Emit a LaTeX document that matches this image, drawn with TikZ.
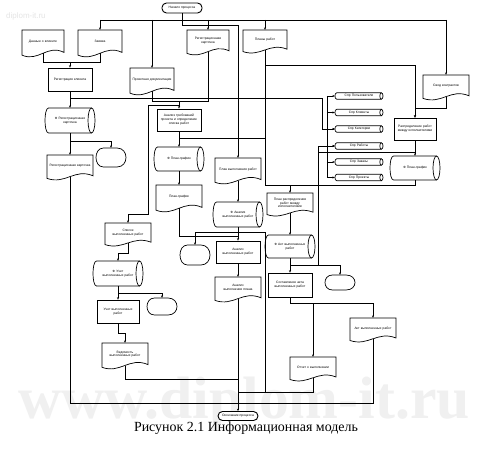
\documentclass[tikz,border=0pt]{standalone}
\usepackage{fontspec}
\setmainfont{Liberation Serif}
\newfontfamily\dsans{Liberation Sans}
\usetikzlibrary{arrows.meta}
\tikzset{
 shp/.style={draw=black, line width=0.7bp, fill=white},
 lin/.style={draw=black, line width=0.7bp},
 txt/.style={font=\dsans\fontsize{3.3}{3.9}\selectfont, align=center, inner sep=0pt},
 proc/.style={shp, txt},
 term/.style={draw=black, line width=0.9bp, fill=white, rounded corners=4.5bp, txt, minimum width=40bp, minimum height=10bp},
 conn/.style={line width=0.7bp, -{Stealth[length=2.4bp,width=2bp]}},
 wire/.style={line width=0.7bp},
 wm/.style={font=\bfseries\fontsize{60}{60}\selectfont, text=black!6, inner sep=0pt},
 wms/.style={font=\dsans\fontsize{8}{8}\selectfont, text=black!10, inner sep=0pt},
 capt/.style={font=\fontsize{14}{16}\selectfont, inner sep=0pt},
}
% document shape: name, x1, y1, x2, y2, text
\newcommand\mkdoc[6]{%
 \draw[shp] (#2,#3) -- (#4,#3) -- (#4,{#5-0.2*(#5-#3)}) .. controls ({#2+0.6*(#4-#2)},{#5-0.5*(#5-#3)}) and ({#2+0.4*(#4-#2)},{#5+0.15*(#5-#3)}) .. (#2,{#5-0.1*(#5-#3)}) -- cycle;
 \pgfmathsetmacro\rsW{#4-#2}\pgfmathsetmacro\rsH{0.83*(#5-#3)}\pgfmathsetmacro\rsTW{#4-#2-5}\pgfmathsetmacro\rsCY{#3+0.415*(#5-#3)}%
 \node[txt, minimum width=\rsW bp, minimum height=\rsH bp, text width=\rsTW bp] (#1) at ({(#2+#4)/2},\rsCY) {#6};}
% process box
\newcommand\mkproc[6]{%
 \pgfmathsetmacro\rsW{#4-#2}\pgfmathsetmacro\rsH{#5-#3}\pgfmathsetmacro\rsTW{#4-#2-4}%
 \node[proc, minimum width=\rsW bp, minimum height=\rsH bp, text width=\rsTW bp] (#1) at ({(#2+#4)/2},{(#3+#5)/2}) {#6};}
% horizontal cylinder: name, x1, y1, x2, y2, rx, text
\newcommand\mkcyl[7]{%
 \pgfmathsetmacro\rsCY{(#3+#5)/2}\pgfmathsetmacro\rsRY{(#5-#3)/2}%
 \path[fill=white] ({#2+#6},#3) -- ({#4-#6},#3) -- ({#4-#6},#5) -- ({#2+#6},#5) .. controls ({#2-#6/3},#5) and ({#2-#6/3},#3) .. ({#2+#6},#3) -- cycle;
 \draw[shp] ({#4-#6},\rsCY) ellipse [x radius=#6, y radius=\rsRY];
 \draw[lin] ({#2+#6},#3) -- ({#4-#6},#3) ({#2+#6},#5) -- ({#4-#6},#5) ({#2+#6},#3) .. controls ({#2-#6/3},#3) and ({#2-#6/3},#5) .. ({#2+#6},#5);
 \pgfmathsetmacro\rsW{#4-#2}\pgfmathsetmacro\rsH{#5-#3}\pgfmathsetmacro\rsTW{#4-#2-2*#6-3}%
 \node[txt, minimum width=\rsW bp, minimum height=\rsH bp, text width=\rsTW bp] (#1) at ({(#2+#4)/2},\rsCY) {#7};}
% display shape: name, x1, y1, x2, y2
\newcommand\mkdisp[5]{%
 \pgfmathsetmacro\rsW{#4-#2}\pgfmathsetmacro\rsH{#5-#3}%
 \draw[shp] ({#2+0.25*\rsW},#3) -- ({#4-0.3*\rsW},#3) .. controls ({#4+0.1*\rsW},#3) and ({#4+0.1*\rsW},#5) .. ({#4-0.3*\rsW},#5) -- ({#2+0.25*\rsW},#5) .. controls ({#2+0.08*\rsW},#5) and (#2,{#5-0.25*\rsH}) .. (#2,{(#3+#5)/2}) .. controls (#2,{#3+0.25*\rsH}) and ({#2+0.08*\rsW},#3) .. ({#2+0.25*\rsW},#3) -- cycle;
 \node[inner sep=0pt, minimum width=\rsW bp, minimum height=\rsH bp] (#1) at ({(#2+#4)/2},{(#3+#5)/2}) {};}
\begin{document}
\begin{tikzpicture}[x=1bp,y=-1bp]
\useasboundingbox (0,0) rectangle (480,460);
\fill[white] (0,0) rectangle (480,460);
\begin{scope}
\clip (0,0) rectangle (480,460);
\node[wm, anchor=base west] (wm1) at (18,418) {www.diplom-it.ru};
\end{scope}
\node[wms, anchor=west] (wm2) at (6,16) {diplom-it.ru};

% ---- shapes ----
\node[term] (T1) at (182,8) {Начало процесса};
\node[term, minimum height=9bp] (T2) at (238,416) {Окончание процесса};

\mkdoc{D1}{22}{30}{64}{58}{Данные о клиенте}
\mkdoc{D2}{78}{30}{122}{58}{Заявка}
\mkdoc{D4}{187}{30}{229}{56}{Регистрационная карточка}
\mkdoc{D5}{243}{30}{287}{54}{Планы работ}
\mkdoc{D6}{423}{75}{469}{101}{Свод контрактов}
\mkproc{P1}{48}{68}{92}{91}{Регистрация клиента}
\mkdoc{D3}{130}{68}{174}{96}{Проектная документация}
\mkcyl{C1}{45}{108}{95}{133}{3.5}{Ф Регистрационная\\карточка}
\mkdisp{DP1}{96}{148}{126}{167}
\mkdoc{D7}{47}{155}{93}{181}{Регистрационная карточка}
\mkproc{P2}{157}{109}{201}{131}{Анализ требований проекта и определение списка работ}
\mkcyl{C2}{154}{147}{204}{171}{3.5}{Ф План-график}
\mkdoc{D8}{156}{185}{202}{213}{План-график}
\mkdoc{D9}{215}{158}{261}{185}{План выполнения работ}
\mkcyl{C3}{213}{202}{263}{227}{3.5}{Ф Анализ\\выполненных работ}
\mkdisp{DP2}{180}{245}{210}{265}
\mkproc{P3}{216}{241}{260}{263}{Анализ выполненных работ}
\mkdoc{D10}{215}{277}{261}{303}{Анализ выполнения плана}
\mkdoc{D11}{105}{223}{151}{247}{Список выполненных работ}
\mkcyl{C4}{93}{261}{143}{286}{3.5}{Ф Учет\\выполненных работ}
\mkdisp{DP3}{147}{298}{177}{315}
\mkproc{P4}{97}{300}{139}{323}{Учет выполненных работ}
\mkdoc{D12}{102}{343}{148}{370}{Ведомость выполненных работ}
\mkcyl{S1}{335}{92.8}{383}{99.2}{1.6}{Спр Пользователи}
\mkcyl{S2}{335}{109.3}{383}{115.7}{1.6}{Спр Клиенты}
\mkcyl{S3}{335}{125.8}{383}{132.2}{1.6}{Спр Категории}
\mkcyl{S4}{335}{142.8}{383}{149.2}{1.6}{Спр Работы}
\mkcyl{S5}{335}{158.8}{383}{165.2}{1.6}{Спр Заказы}
\mkcyl{S6}{335}{174.3}{383}{180.7}{1.6}{Спр Проекты}
\mkproc{P5}{394}{118}{436}{140}{Распределение работ между исполнителями}
\mkcyl{C5}{390}{156}{440}{180}{3.5}{Ф План-график}
\mkdoc{D13}{267}{193}{313}{217}{План распределения работ между исполнителями}
\mkcyl{C6}{265}{235}{315}{258}{3.5}{Ф Акт выполненных работ}
\mkdisp{DP4}{325}{275}{355}{290}
\mkproc{P6}{268}{273}{312}{297}{Составление акта выполненных работ}
\mkdoc{D14}{350}{318}{396}{343}{Акт выполненных работ}
\mkdoc{D15}{290}{357}{336}{382}{Отчет о выполнении}

% ---- connectors ----
\draw[wire] (100,20) -- (446,20);
\draw[wire] (T1.south) -- (182,20);
\draw[conn] (T1.south) -- (182,25) -- (238,25) -- (D9.north);
\draw[conn] (100,20) -- (D2.north);
\draw[conn] (152,20) -- (D3.north);
\draw[conn] (208,20) -- (D4.north);
\draw[conn] (265,20) -- (D5.north);
\draw[conn] (446,20) -- (D6.north);
\draw[wire] (D1.south) -- (43,62) -- (100,62) -- (D2.south);
\draw[conn] (70,62) -- (P1.north);
\draw[conn] (P1.south) -- (C1.north);
\draw[conn] (70,98) -- (322,98) -- (322,129) -- (S3.west);
\draw[wire] (D3.south) -- (152,101) -- (208,101) -- (D4.south);
\draw[conn] (179,101) -- (P2.north);
\draw[conn] (179,105) -- (148,105) -- (148,214) -- (128,214) -- (D11.north);
\draw[conn] (P2.south) -- (C2.north);
\draw[wire] (179,138) -- (265,138);
\draw[conn] (D5.south) -- (265,65) -- (415,65) -- (P5.north);
\draw[conn] (265,65) -- (265,185) -- (290,185) -- (D13.north);
\draw[conn] (D6.south) -- (446,108) -- (415,108) -- (P5.north);
\draw[conn] (P5.south) -- (C5.north);
\draw[conn] (415,152) -- (318,152) -- (318,146) -- (S4.west);
\draw[wire] (318,152) -- (318,265) -- (290,265);
\draw[wire] (327,96) -- (327,177.5);
\foreach \s in {S1,S2,S3,S4,S5,S6} \draw[conn] (\s.west) ++(-8,0) -- (\s.west);
\draw[wire] (C5.south) -- (415,185) -- (290,185);
\draw[conn] (C1.south) -- (D7.north);
\draw[conn] (70,141) -- (111,141) -- (DP1.north);
\draw[wire] (D7.south) -- (70,403) -- (373,403) -- (D14.south);
\draw[conn] (D10.south) -- (T2.north);
\draw[conn] (C2.south) -- (D8.north);
\draw[wire] (D8.south) -- (179,236) -- (238,236);
\draw[conn] (D9.south) -- (C3.north);
\draw[conn] (C3.south) -- (P3.north);
\draw[conn] (238,232) -- (195,232) -- (DP2.north);
\draw[conn] (P3.south) -- (D10.north);
\draw[conn] (D11.south) -- (128,253) -- (118,253) -- (C4.north);
\draw[conn] (C4.south) -- (P4.north);
\draw[conn] (118,293) -- (162,293) -- (DP3.north);
\draw[conn] (P4.south) -- (118,333) -- (125,333) -- (D12.north);
\draw[wire] (D12.south) -- (125,379) -- (238,379);
\draw[conn] (D13.south) -- (C6.north);
\draw[conn] (C6.south) -- (P6.north);
\draw[conn] (290,265) -- (340,265) -- (DP4.north);
\draw[conn] (P6.south) -- (290,303) -- (373,303) -- (D14.north);
\draw[conn] (313,303) -- (D15.north);
\draw[wire] (D15.south) -- (313,392) -- (238,392);
\draw[wire] (265,392) -- (265,232) -- (238,232);

\node[capt, anchor=base] (cap) at (246,431) {Рисунок 2.1 Информационная модель};
\end{tikzpicture}
\end{document}
